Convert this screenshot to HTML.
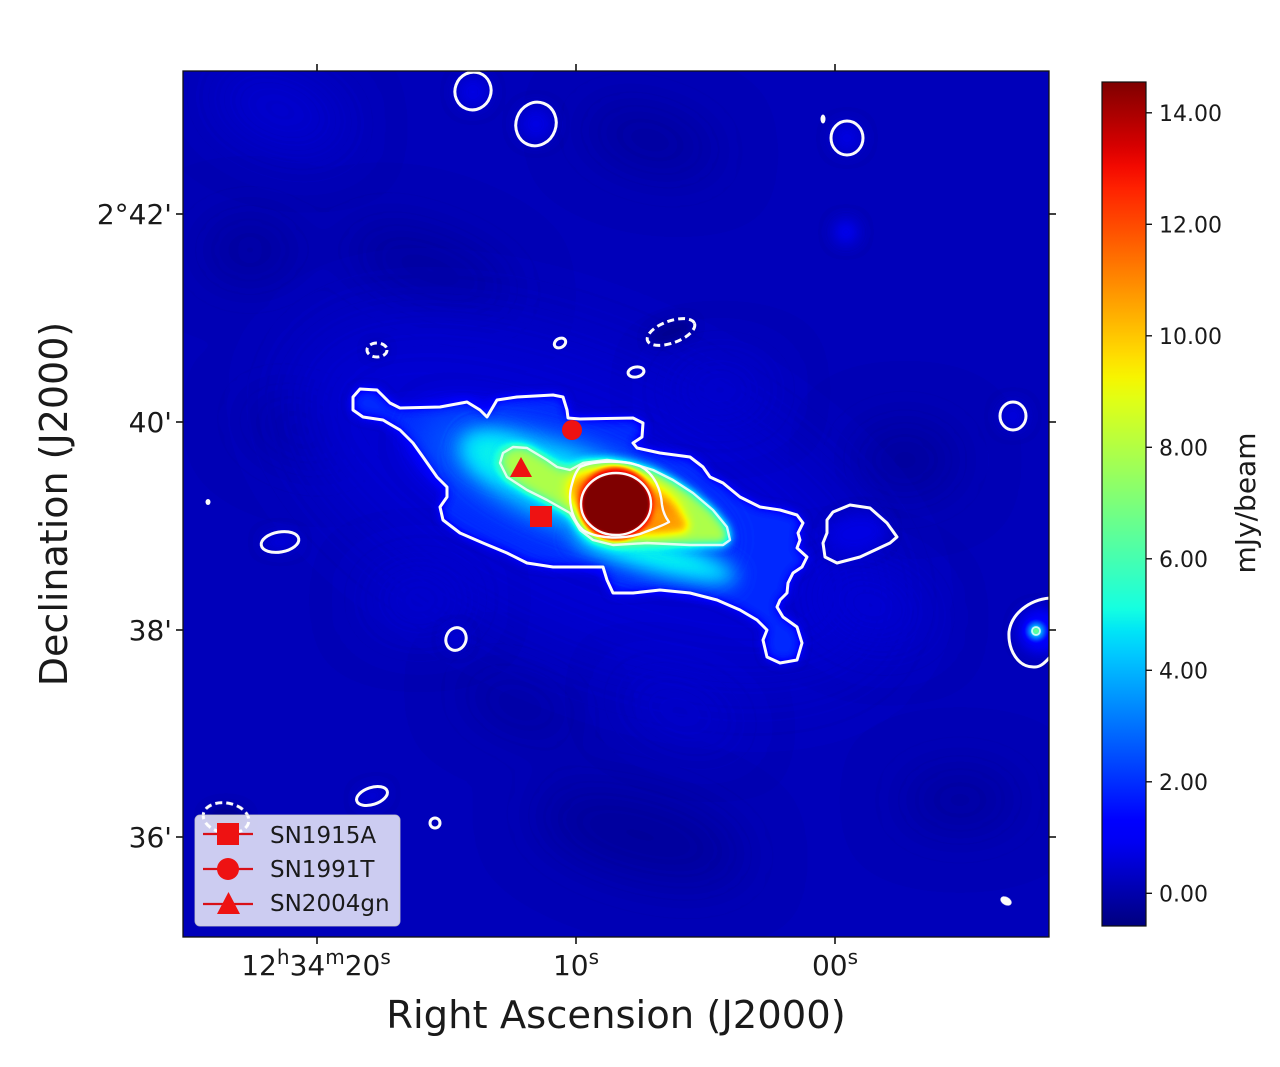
<!DOCTYPE html>
<html><head><meta charset="utf-8"><style>
html,body{margin:0;padding:0;background:#fff;}
svg{display:block;}
text{font-family:"DejaVu Sans","Liberation Sans",sans-serif;fill:#1a1a1a;}
</style></head><body>
<svg width="1280" height="1067" viewBox="0 0 1280 1067" xmlns="http://www.w3.org/2000/svg">
<defs>
 <filter id="jet" filterUnits="userSpaceOnUse" x="0" y="0" width="1280" height="1067" color-interpolation-filters="sRGB">
  <feComponentTransfer>
   <feFuncR type="table" tableValues="0 0 0 0 0 0 0 0 0 0 0 0 0 0 0 0.081 0.161 0.242 0.323 0.403 0.484 0.565 0.645 0.726 0.806 0.887 0.968 1 1 1 1 1 1 1 1 1 0.955 0.841 0.727 0.614 0.5"/>
   <feFuncG type="table" tableValues="0 0 0 0 0 0 0.1 0.2 0.3 0.4 0.5 0.6 0.7 0.8 0.9 1 1 1 1 1 1 1 1 1 1 1 0.963 0.870 0.778 0.685 0.593 0.5 0.407 0.315 0.222 0.130 0.037 0 0 0 0"/>
   <feFuncB type="table" tableValues="0.5 0.614 0.727 0.841 0.955 1 1 1 1 1 1 1 1 1 0.968 0.887 0.806 0.726 0.645 0.565 0.484 0.403 0.323 0.242 0.161 0.081 0 0 0 0 0 0 0 0 0 0 0 0 0 0 0"/>
  </feComponentTransfer>
 </filter>
 <filter id="b1" filterUnits="userSpaceOnUse" x="0" y="0" width="1280" height="1067" color-interpolation-filters="sRGB"><feGaussianBlur stdDeviation="1.2"/></filter>
 <filter id="b3" filterUnits="userSpaceOnUse" x="0" y="0" width="1280" height="1067" color-interpolation-filters="sRGB"><feGaussianBlur stdDeviation="3"/></filter>
 <filter id="b5" filterUnits="userSpaceOnUse" x="0" y="0" width="1280" height="1067" color-interpolation-filters="sRGB"><feGaussianBlur stdDeviation="5"/></filter>
 <filter id="b7" filterUnits="userSpaceOnUse" x="0" y="0" width="1280" height="1067" color-interpolation-filters="sRGB"><feGaussianBlur stdDeviation="7"/></filter>
 <filter id="b10" filterUnits="userSpaceOnUse" x="0" y="0" width="1280" height="1067" color-interpolation-filters="sRGB"><feGaussianBlur stdDeviation="10"/></filter>
 <filter id="b14" filterUnits="userSpaceOnUse" x="0" y="0" width="1280" height="1067" color-interpolation-filters="sRGB"><feGaussianBlur stdDeviation="14"/></filter>
 <filter id="b18" filterUnits="userSpaceOnUse" x="0" y="0" width="1280" height="1067" color-interpolation-filters="sRGB"><feGaussianBlur stdDeviation="18"/></filter>
 <filter id="b28" filterUnits="userSpaceOnUse" x="0" y="0" width="1280" height="1067" color-interpolation-filters="sRGB"><feGaussianBlur stdDeviation="28"/></filter>
 <filter id="b40" filterUnits="userSpaceOnUse" x="0" y="0" width="1280" height="1067" color-interpolation-filters="sRGB"><feGaussianBlur stdDeviation="40"/></filter>
 <clipPath id="mapclip"><rect x="183" y="71" width="866" height="866"/></clipPath>
 <linearGradient id="cbg" x1="0" y1="0" x2="0" y2="1">
  <stop offset="0" stop-color="#ffffff"/>
  <stop offset="1" stop-color="#000000"/>
 </linearGradient>
</defs>

<rect x="0" y="0" width="1280" height="1067" fill="#ffffff"/>

<!-- MAP -->
<g clip-path="url(#mapclip)">
 <g filter="url(#jet)">
  <rect x="0" y="0" width="1280" height="1067" fill="rgb(13,13,13)"/>
  <!-- dark background patches -->
  <g fill="rgb(6,6,6)" filter="url(#b28)">
   <ellipse cx="640" cy="835" rx="110" ry="40" transform="rotate(15 640 835)"/>
   <ellipse cx="430" cy="270" rx="90" ry="32" transform="rotate(20 430 270)"/>
   <ellipse cx="650" cy="140" rx="70" ry="28" transform="rotate(15 650 140)"/>
   <ellipse cx="905" cy="460" rx="55" ry="35"/>
   <ellipse cx="300" cy="430" rx="60" ry="28" transform="rotate(20 300 430)"/>
   <ellipse cx="520" cy="705" rx="60" ry="22" transform="rotate(20 520 705)"/>
   <ellipse cx="960" cy="800" rx="60" ry="28"/>
   <ellipse cx="250" cy="250" rx="50" ry="30"/>
  </g>
  <!-- halo -->
  <ellipse cx="590" cy="500" rx="320" ry="140" transform="rotate(24 590 500)" fill="rgb(18,18,18)" filter="url(#b40)"/>
  <!-- light background patches -->
  <g fill="rgb(19,19,19)" filter="url(#b28)">
   <ellipse cx="280" cy="110" rx="70" ry="32" transform="rotate(20 280 110)"/>
   <ellipse cx="720" cy="390" rx="50" ry="25"/>
   <ellipse cx="870" cy="605" rx="60" ry="32" transform="rotate(20 870 605)"/>
   <ellipse cx="680" cy="712" rx="60" ry="18" transform="rotate(20 680 712)"/>
   <ellipse cx="420" cy="600" rx="50" ry="28"/>
  </g>
  <g fill="rgb(22,22,22)" filter="url(#b7)">
   <circle cx="1013" cy="416" r="13"/>
   <ellipse cx="857" cy="533" rx="30" ry="20" transform="rotate(-10 857 533)"/>
   <circle cx="473" cy="92" r="17"/>
   <circle cx="536" cy="124" r="18"/>
   <circle cx="847" cy="138" r="15"/>
   <ellipse cx="280" cy="542" rx="17" ry="8"/>
   <circle cx="456" cy="639" r="9"/>
   <ellipse cx="372" cy="796" rx="14" ry="7" transform="rotate(-18 372 796)"/>
  </g>
  <circle cx="846" cy="232" r="12" fill="rgb(26,26,26)" filter="url(#b7)"/>
  <g fill="rgb(4,4,4)" filter="url(#b5)">
   <ellipse cx="671" cy="332" rx="24" ry="10" transform="rotate(-20 671 332)"/>
   <ellipse cx="377" cy="350" rx="9" ry="6"/>
   <ellipse cx="226" cy="818" rx="21" ry="13"/>
  </g>
  <!-- galaxy -->
  <polygon fill="rgb(42,42,42)" filter="url(#b5)" points="353,397 360,389 377,390 390,403 400,408 440,407 467,402 480,410 487,417 497,400 517,397 553,395 563,397 567,410 568,418 580,419 633,418 643,423 642,437 633,443 637,448 660,453 690,457 703,467 710,477 723,483 740,497 760,507 780,510 797,515 803,523 798,533 800,540 797,548 807,557 802,567 793,573 788,583 787,593 780,600 777,607 783,617 797,627 802,643 797,660 780,663 767,657 763,640 767,630 757,620 740,610 717,600 690,593 660,590 633,593 613,593 607,580 603,567 553,567 527,563 507,553 483,543 460,533 443,520 440,507 447,497 447,487 437,477 423,457 413,443 400,430 383,420 363,417 353,410"/>
  <ellipse cx="570" cy="490" rx="160" ry="44" transform="rotate(22 570 490)" fill="rgb(55,55,55)" filter="url(#b18)"/>
  <ellipse cx="575" cy="488" rx="115" ry="34" transform="rotate(20 575 488)" fill="rgb(95,95,95)" filter="url(#b14)"/>
  <ellipse cx="500" cy="456" rx="40" ry="20" transform="rotate(20 500 456)" fill="rgb(92,92,92)" filter="url(#b10)"/>
  <ellipse cx="655" cy="556" rx="85" ry="16" transform="rotate(15 655 556)" fill="rgb(95,95,95)" filter="url(#b10)"/>
  <polygon fill="rgb(143,143,143)" filter="url(#b5)" points="503,453 513,447 527,448 547,460 557,467 570,470 583,463 607,460 630,463 653,470 673,480 693,493 713,510 727,527 730,540 723,545 690,545 647,543 613,545 593,540 580,530 570,513 547,500 527,490 507,477 500,463"/>
  <ellipse cx="625" cy="503" rx="58" ry="27" transform="rotate(18 625 503)" fill="rgb(200,200,200)" filter="url(#b7)"/>
  <ellipse cx="668" cy="520" rx="22" ry="9" transform="rotate(22 668 520)" fill="rgb(190,190,190)" filter="url(#b5)"/>
  <circle cx="616" cy="504" r="37" fill="rgb(235,235,235)" filter="url(#b3)"/>
  <ellipse cx="616" cy="504" rx="33" ry="30" fill="rgb(255,255,255)" filter="url(#b1)"/>
  <!-- right edge source -->
  <circle cx="1040" cy="631" r="22" fill="rgb(30,30,30)" filter="url(#b7)"/>
  <circle cx="1036" cy="631" r="9" fill="rgb(75,75,75)" filter="url(#b3)"/>
  <circle cx="1036" cy="631" r="4" fill="rgb(120,120,120)" filter="url(#b1)"/>
 </g>

 <!-- contours -->
 <g fill="none" stroke="#fbfbfb" stroke-width="3" stroke-linejoin="round">
  <polygon points="353,397 360,389 377,390 390,403 400,408 440,407 467,402 480,410 487,417 497,400 517,397 553,395 563,397 567,410 568,418 580,419 633,418 643,423 642,437 633,443 637,448 660,453 690,457 703,467 710,477 723,483 740,497 760,507 780,510 797,515 803,523 798,533 800,540 797,548 807,557 802,567 793,573 788,583 787,593 780,600 777,607 783,617 797,627 802,643 797,660 780,663 767,657 763,640 767,630 757,620 740,610 717,600 690,593 660,590 633,593 613,593 607,580 603,567 553,567 527,563 507,553 483,543 460,533 443,520 440,507 447,497 447,487 437,477 423,457 413,443 400,430 383,420 363,417 353,410"/>
  <polygon stroke-width="2.4" stroke-opacity="0.85" points="503,453 513,447 527,448 547,460 557,467 570,470 583,463 607,460 630,463 653,470 673,480 693,493 713,510 727,527 730,540 723,545 690,545 647,543 613,545 593,540 580,530 570,513 547,500 527,490 507,477 500,463"/>
  <path stroke-width="2.4" d="M580,467 C595,460 625,460 640,466 C655,474 661,490 662,505 C663,513 666,518 669,522 C660,527 650,530 640,534 C620,540 595,538 583,530 C572,520 567,500 572,484 C574,476 577,470 580,467 Z"/>
  <ellipse cx="616" cy="504" rx="35" ry="31" stroke-width="2.4"/>
  <polygon points="833,512 850,505 870,508 887,523 897,537 890,543 860,557 837,563 825,557 823,543 827,533 827,520"/>
  <path d="M1052,598 C1035,598 1012,610 1009,632 C1008,650 1018,668 1035,667 C1042,667 1047,660 1052,655"/>
  <circle cx="1036" cy="631" r="4" stroke-width="1.8" stroke-opacity="0.8"/>
  <ellipse cx="473" cy="91" rx="18" ry="19" transform="rotate(20 473 91)"/>
  <ellipse cx="536" cy="124" rx="20" ry="22" transform="rotate(20 536 124)"/>
  <ellipse cx="847" cy="138" rx="16" ry="17"/>
  <ellipse cx="1013" cy="416" rx="13" ry="14"/>
  <ellipse cx="280" cy="542" rx="19" ry="10" transform="rotate(-10 280 542)"/>
  <ellipse cx="456" cy="639" rx="10" ry="11.5" transform="rotate(20 456 639)"/>
  <ellipse cx="372" cy="796" rx="16" ry="8.5" transform="rotate(-18 372 796)"/>
  <circle cx="435" cy="823" r="5"/>
  <ellipse cx="560" cy="343" rx="6" ry="4.5" transform="rotate(-30 560 343)"/>
  <ellipse cx="636" cy="372" rx="8" ry="5" transform="rotate(-10 636 372)"/>
  <g stroke-dasharray="7 4">
   <ellipse cx="671" cy="332" rx="25" ry="11" transform="rotate(-20 671 332)"/>
   <ellipse cx="377" cy="350" rx="10" ry="7"/>
   <ellipse cx="226" cy="818" rx="23" ry="15" transform="rotate(10 226 818)"/>
  </g>
 </g>
 <g fill="#fbfbfb">
  <ellipse cx="823" cy="119" rx="2.5" ry="4.5"/>
  <ellipse cx="208" cy="502" rx="2.5" ry="3"/>
  <ellipse cx="1006" cy="901" rx="6" ry="4" transform="rotate(30 1006 901)"/>
 </g>

 <!-- SN markers -->
 <g fill="#ee1212">
  <circle cx="572" cy="430" r="10"/>
  <polygon points="521,457 510,477 532,477"/>
  <rect x="530" y="506" width="22" height="21"/>
 </g>

 <!-- legend -->
 <rect x="195" y="815" width="205" height="111" rx="5" fill="#ffffff" fill-opacity="0.8" stroke="#cccccc" stroke-opacity="0.8"/>
 <g stroke="#d81018" stroke-width="2.2">
  <line x1="203" y1="834" x2="253" y2="834"/>
  <line x1="203" y1="869" x2="253" y2="869"/>
  <line x1="203" y1="904" x2="253" y2="904"/>
 </g>
 <g fill="#ee1212">
  <rect x="217" y="823" width="22" height="22"/>
  <circle cx="228" cy="869" r="11"/>
  <polygon points="228.5,892 217,914 240,914"/>
 </g>
 <text x="270" y="843" font-size="23">SN1915A</text>
 <text x="270" y="877" font-size="23">SN1991T</text>
 <text x="270" y="911" font-size="23">SN2004gn</text>
</g>

<!-- frame and ticks -->
<rect x="183" y="71" width="866" height="866" fill="none" stroke="#111" stroke-width="1.3"/>
<g stroke="#111" stroke-width="1.6">
 <line x1="317" y1="64" x2="317" y2="71"/>
 <line x1="576" y1="64" x2="576" y2="71"/>
 <line x1="835" y1="64" x2="835" y2="71"/>
 <line x1="317" y1="937" x2="317" y2="944"/>
 <line x1="576" y1="937" x2="576" y2="944"/>
 <line x1="835" y1="937" x2="835" y2="944"/>
 <line x1="176" y1="214" x2="183" y2="214"/>
 <line x1="176" y1="422" x2="183" y2="422"/>
 <line x1="176" y1="630" x2="183" y2="630"/>
 <line x1="176" y1="837" x2="183" y2="837"/>
 <line x1="1049" y1="214" x2="1056" y2="214"/>
 <line x1="1049" y1="422" x2="1056" y2="422"/>
 <line x1="1049" y1="630" x2="1056" y2="630"/>
 <line x1="1049" y1="837" x2="1056" y2="837"/>
</g>

<!-- tick labels -->
<g font-size="28" text-anchor="end">
 <text x="172" y="224">2°42'</text>
 <text x="172" y="432">40'</text>
 <text x="172" y="640">38'</text>
 <text x="172" y="847">36'</text>
</g>
<g font-size="28" text-anchor="middle">
 <text x="316" y="975">12<tspan font-size="20" dy="-11">h</tspan><tspan dy="11">34</tspan><tspan font-size="20" dy="-11">m</tspan><tspan dy="11">20</tspan><tspan font-size="20" dy="-11">s</tspan></text>
 <text x="576" y="975">10<tspan font-size="20" dy="-11">s</tspan></text>
 <text x="835" y="975">00<tspan font-size="20" dy="-11">s</tspan></text>
</g>

<!-- axis labels -->
<text x="616" y="1028" font-size="38.5" text-anchor="middle">Right Ascension (J2000)</text>
<text transform="translate(67 504) rotate(-90)" x="0" y="0" font-size="38" text-anchor="middle">Declination (J2000)</text>

<!-- colorbar -->
<g filter="url(#jet)">
 <rect x="1102" y="82" width="44" height="844" fill="url(#cbg)"/>
</g>
<rect x="1102" y="82" width="44" height="844" fill="none" stroke="#111" stroke-width="1.2"/>
<g stroke="#111" stroke-width="1.4">
 <line x1="1146" y1="893.3" x2="1152" y2="893.3"/>
 <line x1="1146" y1="781.8" x2="1152" y2="781.8"/>
 <line x1="1146" y1="670.3" x2="1152" y2="670.3"/>
 <line x1="1146" y1="558.8" x2="1152" y2="558.8"/>
 <line x1="1146" y1="447.3" x2="1152" y2="447.3"/>
 <line x1="1146" y1="335.8" x2="1152" y2="335.8"/>
 <line x1="1146" y1="224.3" x2="1152" y2="224.3"/>
 <line x1="1146" y1="112.8" x2="1152" y2="112.8"/>
</g>
<g font-size="22">
 <text x="1159" y="901.3">0.00</text>
 <text x="1159" y="789.8">2.00</text>
 <text x="1159" y="678.3">4.00</text>
 <text x="1159" y="566.8">6.00</text>
 <text x="1159" y="455.3">8.00</text>
 <text x="1159" y="343.8">10.00</text>
 <text x="1159" y="232.3">12.00</text>
 <text x="1159" y="120.8">14.00</text>
</g>
<text transform="translate(1255 503) rotate(-90)" x="0" y="0" font-size="28" text-anchor="middle">mJy/beam</text>
</svg>
</body></html>
